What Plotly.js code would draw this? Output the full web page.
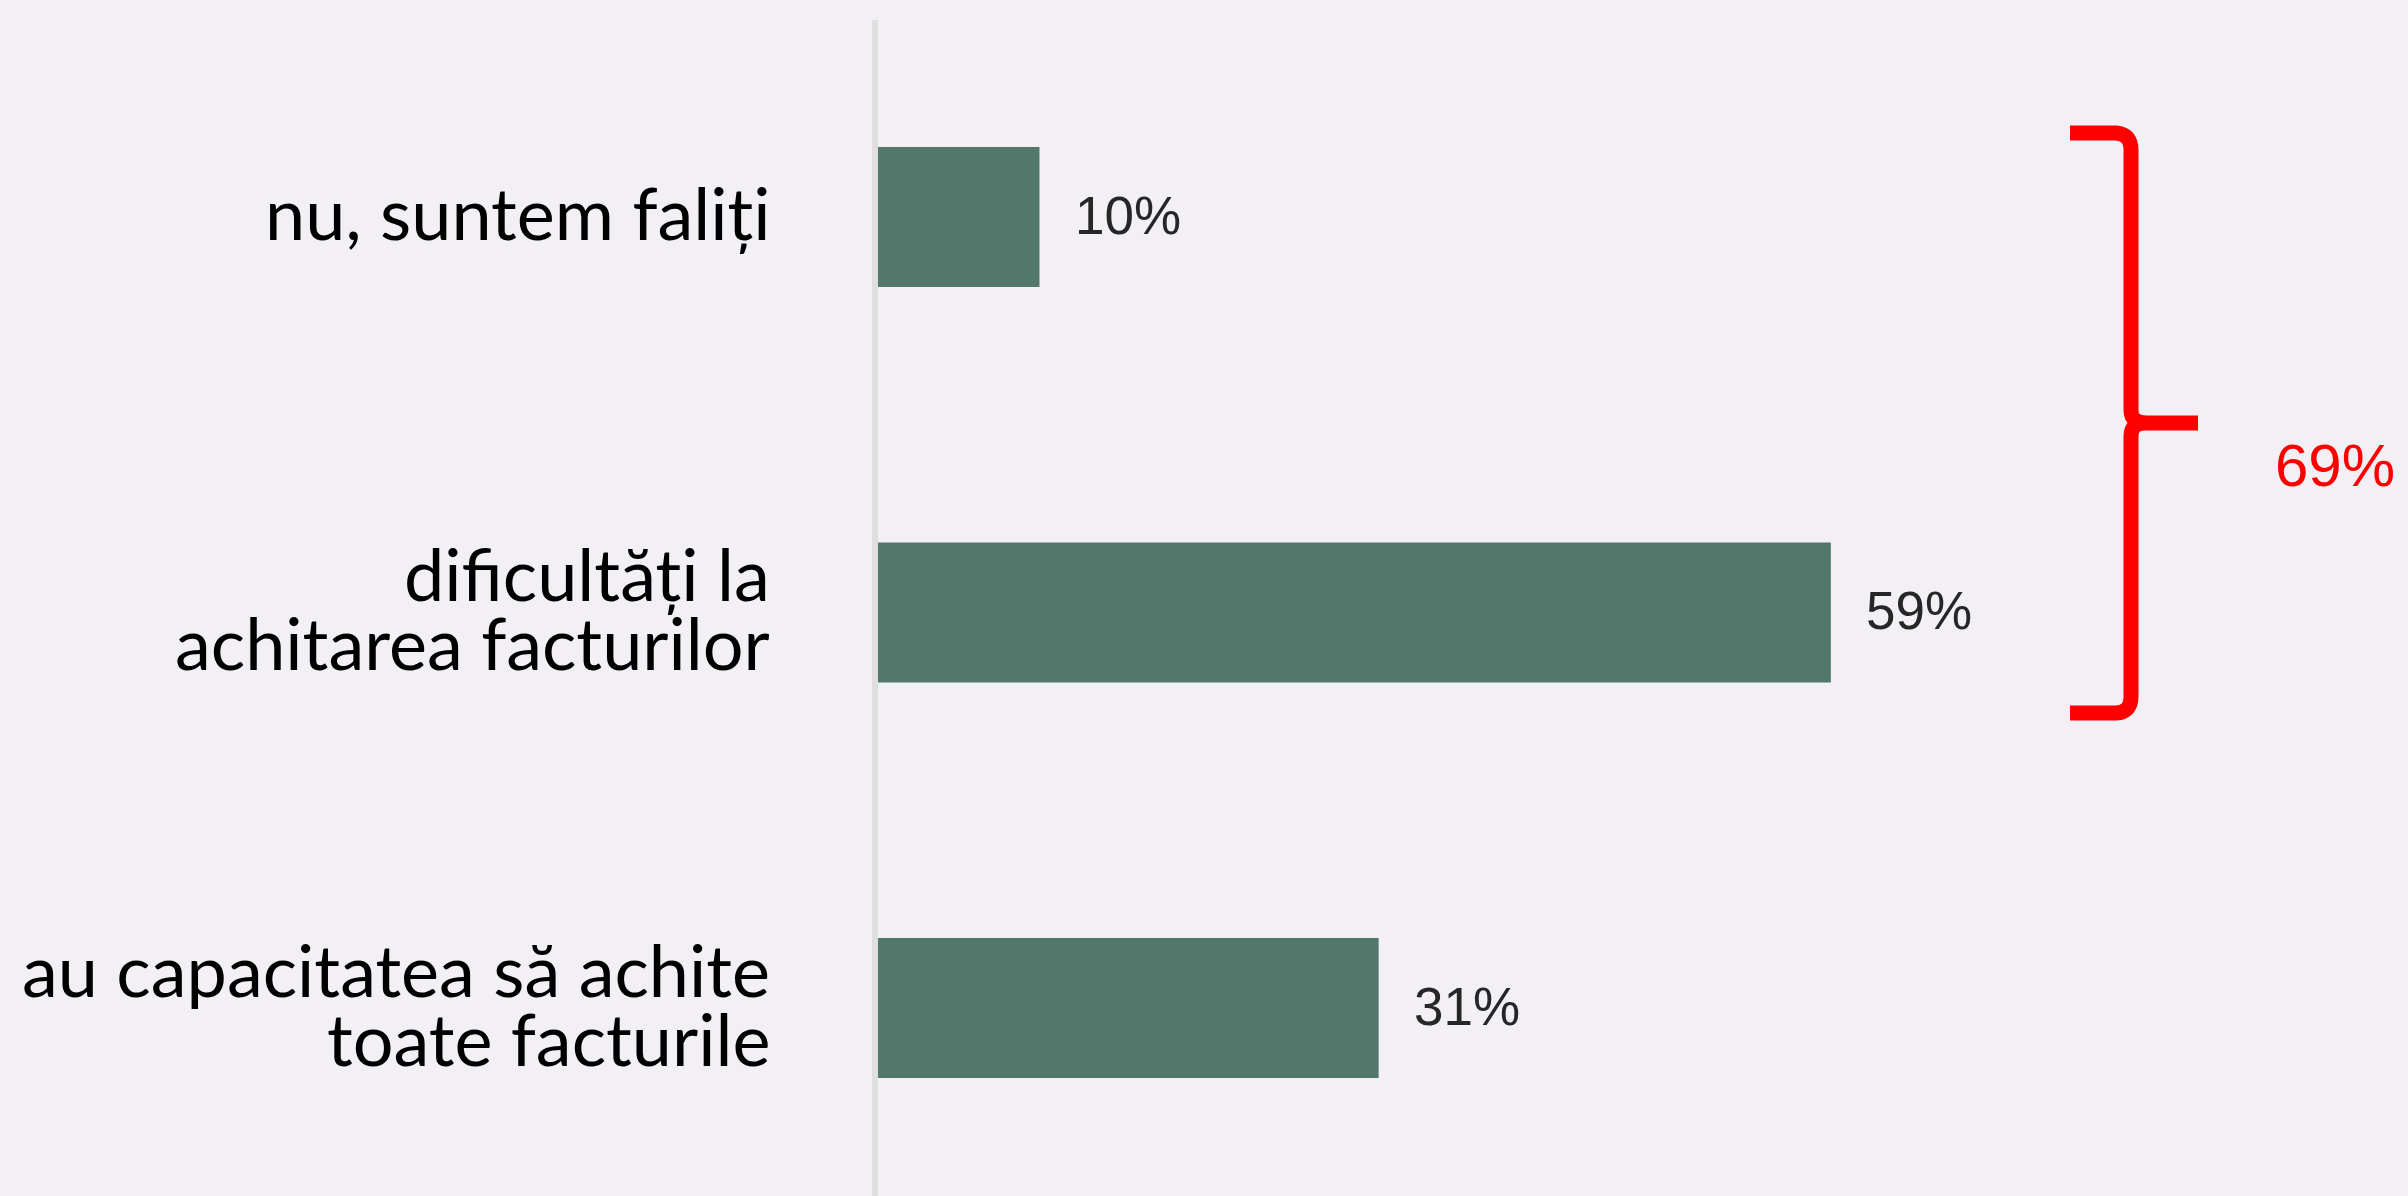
<!DOCTYPE html>
<html>
<head>
<meta charset="utf-8">
<script src="https://cdn.plot.ly/plotly-3.0.1.min.js"></script>
<style>
  html, body { margin: 0; padding: 0; background: #f2f0f5; }
  #chart { width: 2408px; height: 1196px; }
</style>
</head>
<body>
<div id="chart"></div>
<script>
// ---- data ----
const categories = [
  "nu, suntem faliți",
  "dificultăți la achitarea facturilor",
  "au capacitatea să achite toate facturile"
];
const tickLines = [
  ["nu, suntem faliți"],
  ["dificultăți la", "achitarea facturilor"],
  ["au capacitatea să achite", "toate facturile"]
];
const values = [10, 59, 31];
const valueLabels = ["10%", "59%", "31%"];
const braceLabel = "69%";

// ---- layout geometry (pixels) ----
const W = 2408, H = 1196;
const ML = 878, MR = 0, MT = 20, MB = 0;
const PW = W - ML - MR, PH = H - MT - MB;
const pxPerUnit = 16.15;
const rowPx = 395.5;
const firstCenter = 217;
const yTop = -(firstCenter - MT) / rowPx;
const yBottom = yTop + PH / rowPx;

const px = x => (x - ML) / PW;
const py = y => 1 - (y - MT) / PH;

const trace = {
  type: 'bar',
  orientation: 'h',
  y: categories,
  x: values,
  width: 0.354,
  marker: { color: '#53786b' },
  hoverinfo: 'skip'
};

const annotations = [];
// value labels
values.forEach((v, i) => {
  annotations.push({
    x: v, y: categories[i], xref: 'x', yref: 'y',
    text: valueLabels[i], showarrow: false,
    xanchor: 'left', yanchor: 'middle', xshift: 33, yshift: 2,
    font: { family: 'Liberation Sans, Arial, sans-serif', size: 53, color: '#262626' }
  });
});
// category labels (one annotation per line for tight line spacing)
const lineGap = 69, baseOffset = 23;
tickLines.forEach((lines, i) => {
  const n = lines.length;
  lines.forEach((t, j) => {
    const baseline = baseOffset + (j - (n - 1) / 2) * lineGap; // px below bar centre
    annotations.push({
      x: 0, y: categories[i], xref: 'paper', yref: 'y',
      text: t, showarrow: false,
      xanchor: 'right', yanchor: 'middle', xshift: -106,
      yshift: 28 - baseline,
      font: { family: 'Lato, sans-serif', size: 72, color: '#000000' }
    });
  });
});
// brace label
annotations.push({
  x: px(2273), y: py(466), xref: 'paper', yref: 'paper',
  text: braceLabel, showarrow: false,
  xanchor: 'left', yanchor: 'middle',
  font: { family: 'Liberation Sans, Arial, sans-serif', size: 60, color: '#ff0000' }
});

// brace shape
const P = (x, y) => px(x).toFixed(5) + ',' + py(y).toFixed(5);
const bracePath =
  'M' + P(2070, 133) + ' L' + P(2116, 133) + ' Q' + P(2131, 134) + ' ' + P(2131, 150) +
  ' L' + P(2131, 410) + ' Q' + P(2131, 423) + ' ' + P(2146, 423) + ' L' + P(2198, 423) +
  ' M' + P(2146, 423) + ' Q' + P(2131, 423) + ' ' + P(2131, 436) +
  ' L' + P(2131, 697) + ' Q' + P(2131, 712) + ' ' + P(2116, 713) + ' L' + P(2070, 713);

const layout = {
  width: W, height: H,
  margin: { l: ML, r: MR, t: MT, b: MB, pad: 0 },
  paper_bgcolor: '#f2f0f5',
  plot_bgcolor: '#f2f0f5',
  showlegend: false,
  xaxis: {
    range: [0, PW / pxPerUnit],
    showgrid: false, zeroline: false, showline: false,
    showticklabels: false, ticks: '', fixedrange: true
  },
  yaxis: {
    type: 'category',
    categoryorder: 'array', categoryarray: categories,
    range: [yBottom, yTop],
    showgrid: false, zeroline: false,
    showline: true, linecolor: '#dfdfdf', linewidth: 6,
    showticklabels: false, ticks: '', fixedrange: true
  },
  annotations: annotations,
  shapes: [{
    type: 'path', xref: 'paper', yref: 'paper',
    path: bracePath,
    line: { color: '#ff0000', width: 15 },
    fillcolor: 'rgba(0,0,0,0)'
  }]
};

Plotly.newPlot('chart', [trace], layout, { displayModeBar: false, staticPlot: true });
</script>
</body>
</html>
